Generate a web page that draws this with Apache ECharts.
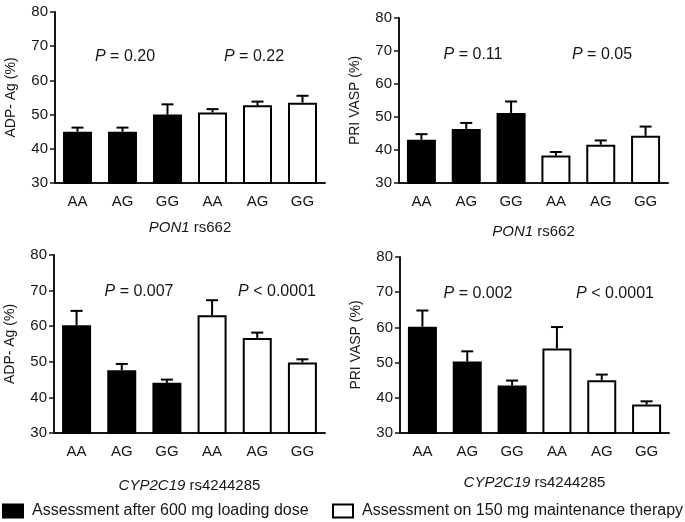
<!DOCTYPE html>
<html>
<head>
<meta charset="utf-8">
<script src="https://cdn.jsdelivr.net/npm/echarts@6/dist/echarts.min.js"></script>
<style>html,body{margin:0;padding:0;background:#fff}#c{width:685px;height:522px}</style>
</head>
<body>
<div id="c"></div>
<script>
// ---- data ----
var categories = ['AA', 'AG', 'GG', 'AA', 'AG', 'GG'];
var seriesNames = ['Assessment after 600 mg loading dose', 'Assessment on 150 mg maintenance therapy'];
var yTitles = ['ADP- Ag (%)', 'PRI VASP (%)', 'ADP- Ag (%)', 'PRI VASP (%)'];
var xTitleGene = ['PON1', 'PON1', 'CYP2C19', 'CYP2C19'];
var xTitleSnp = ['rs662', 'rs662', 'rs4244285', 'rs4244285'];
var yTicks = [30, 40, 50, 60, 70, 80];

// panel A: ADP-Ag, PON1
var adpPonLoad = [45.0, 45.0, 50.0];
var adpPonLoadUp = [46.2, 46.2, 53.0];
var adpPonMaint = [50.6, 52.7, 53.5];
var adpPonMaintUp = [51.6, 53.8, 55.5];
// panel B: PRI VASP, PON1
var vaspPonLoad = [43.1, 46.4, 51.2];
var vaspPonLoadUp = [44.8, 48.2, 54.7];
var vaspPonMaint = [38.3, 41.6, 44.3];
var vaspPonMaintUp = [39.4, 42.9, 47.1];
// panel C: ADP-Ag, CYP2C19
var adpCypLoad = [60.3, 47.6, 44.1];
var adpCypLoadUp = [64.3, 49.4, 45.0];
var adpCypMaint = [63.1, 56.7, 49.8];
var adpCypMaintUp = [67.3, 58.2, 50.7];
// panel D: PRI VASP, CYP2C19
var vaspCypLoad = [60.2, 50.3, 43.5];
var vaspCypLoadUp = [64.8, 53.2, 44.9];
var vaspCypMaint = [54.0, 45.0, 38.1];
var vaspCypMaintUp = [60.1, 46.6, 39.0];

var pText = [
  ['= 0.20', '= 0.22'],
  ['= 0.11', '= 0.05'],
  ['= 0.007', '< 0.0001'],
  ['= 0.002', '< 0.0001']
];

var panels = [
  [adpPonLoad, adpPonLoadUp, adpPonMaint, adpPonMaintUp],
  [vaspPonLoad, vaspPonLoadUp, vaspPonMaint, vaspPonMaintUp],
  [adpCypLoad, adpCypLoadUp, adpCypMaint, adpCypMaintUp],
  [vaspCypLoad, vaspCypLoadUp, vaspCypMaint, vaspCypMaintUp]
];

// ---- layout ----
var FONT = 'Liberation Sans, Arial, Helvetica, sans-serif';
var INK = '#161616';
var grids = [
  {left: 55, top: 12, width: 270, height: 171},
  {left: 399, top: 18, width: 269, height: 165},
  {left: 54, top: 255, width: 271, height: 178},
  {left: 400, top: 257, width: 269, height: 176}
];
var xNameGaps = [37, 41, 45, 42];
var pPos = [
  [[125, 57], [254, 57]],
  [[473, 55], [602, 55]],
  [[139, 292], [277, 292]],
  [[478, 294], [615, 294]]
];

var xAxes = [], yAxes = [], series = [], graphics = [];
panels.forEach(function (p, i) {
  xAxes.push({
    type: 'category', gridIndex: i, data: categories,
    axisLine: {lineStyle: {color: INK, width: 2}},
    axisTick: {alignWithLabel: true, length: 5, lineStyle: {color: INK, width: 1.5}},
    axisLabel: {color: INK, fontSize: 15, fontFamily: FONT, margin: 11, interval: 0},
    name: '{i|' + xTitleGene[i] + '} ' + xTitleSnp[i],
    nameLocation: 'middle', nameGap: xNameGaps[i],
    nameTextStyle: {color: INK, fontSize: 15, fontFamily: FONT,
      rich: {i: {fontStyle: 'italic', fontSize: 15, fontFamily: FONT, color: INK}}}
  });
  yAxes.push({
    type: 'value', gridIndex: i, min: yTicks[0], max: yTicks[yTicks.length - 1], interval: 10,
    axisLine: {show: true, lineStyle: {color: INK, width: 2}},
    axisTick: {show: true, length: 5, lineStyle: {color: INK, width: 1.5}},
    splitLine: {show: false},
    axisLabel: {color: INK, fontSize: 15, fontFamily: FONT, margin: 7},
    name: yTitles[i], nameLocation: 'middle', nameRotate: 90, nameGap: 37,
    nameTextStyle: {color: INK, fontSize: 14, fontFamily: FONT}
  });
  var load = p[0].concat(['-', '-', '-']);
  var maint = ['-', '-', '-'].concat(p[2]);
  series.push({
    name: seriesNames[0], type: 'bar', xAxisIndex: i, yAxisIndex: i,
    data: load, barWidth: 29, barGap: '-100%',
    itemStyle: {color: '#000', borderColor: '#000', borderWidth: 2}
  });
  series.push({
    name: seriesNames[1], type: 'bar', xAxisIndex: i, yAxisIndex: i,
    data: maint, barWidth: 29, barGap: '-100%',
    itemStyle: {color: '#fff', borderColor: '#000', borderWidth: 2}
  });
  var errData = [];
  for (var k = 0; k < 3; k++) errData.push([k, p[0][k], p[1][k]]);
  for (var k2 = 0; k2 < 3; k2++) errData.push([k2 + 3, p[2][k2], p[3][k2]]);
  series.push({
    type: 'custom', xAxisIndex: i, yAxisIndex: i, data: errData, z: 1,
    renderItem: function (params, api) {
      var base = api.coord([api.value(0), api.value(1)]);
      var top = api.coord([api.value(0), api.value(2)]);
      var hw = 6;
      return {
        type: 'group',
        children: [
          {type: 'line', shape: {x1: base[0], y1: base[1], x2: top[0], y2: top[1]},
            style: {stroke: '#000', lineWidth: 2}},
          {type: 'line', shape: {x1: top[0] - hw, y1: top[1], x2: top[0] + hw, y2: top[1]},
            style: {stroke: '#000', lineWidth: 2}}
        ]
      };
    }
  });
  pText[i].forEach(function (t, j) {
    graphics.push({
      type: 'text', x: pPos[i][j][0], y: pPos[i][j][1],
      style: {
        text: '{i|P} ' + t, align: 'center', verticalAlign: 'middle',
        fill: INK, font: '16px ' + FONT,
        rich: {i: {fontStyle: 'italic', fontSize: 16, fontFamily: FONT, fill: INK}}
      }
    });
  });
});

var legendCommon = {
  top: 503, padding: 0, itemWidth: 20, itemHeight: 13, icon: 'rect',
  selectedMode: false,
  textStyle: {color: INK, fontSize: 16, fontFamily: FONT, padding: [0, 0, 0, 4]}
};
var legends = [
  Object.assign({}, legendCommon, {data: [seriesNames[0]], left: 2}),
  Object.assign({}, legendCommon, {data: [seriesNames[1]], left: 332})
];

var chart = echarts.init(document.getElementById('c'), null, {renderer: 'canvas'});
chart.setOption({
  animation: false,
  grid: grids,
  xAxis: xAxes,
  yAxis: yAxes,
  series: series,
  graphic: graphics,
  legend: legends
});
</script>
</body>
</html>
